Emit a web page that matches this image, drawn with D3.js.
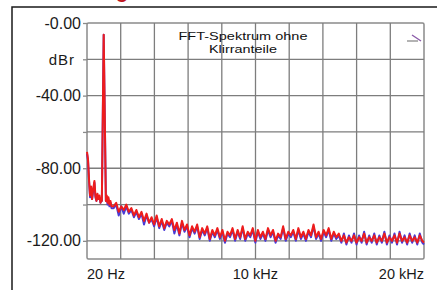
<!DOCTYPE html>
<html>
<head>
<meta charset="utf-8">
<script src="https://cdn.jsdelivr.net/npm/d3@7"></script>
<style>
  body { margin: 0; background: #fff; }
  svg { display: block; font-family: "Liberation Sans", Arial, sans-serif; }
</style>
</head>
<body>
<svg id="chart"></svg>
<script>
// frequency points (Hz), shared by both traces
const freqs = [
  20, 80, 140, 200, 260, 320, 380, 460, 520, 580, 640, 700, 760, 820, 870, 900, 1010, 1140, 1190, 1240, 1290, 1350, 1410, 1470,
  1600, 1750, 1900, 2050, 2200, 2350, 2500, 2650, 2800, 2950,
  3100, 3250, 3400, 3550, 3700, 3850, 4000, 4150, 4300, 4450,
  4600, 4750, 4900, 5050, 5200, 5350, 5500, 5650, 5800, 5950,
  6100, 6250, 6400, 6550, 6700, 6850, 7000, 7150, 7300, 7450,
  7600, 7750, 7900, 8050, 8200, 8350, 8500, 8650, 8800, 8950,
  9100, 9250, 9400, 9550, 9700, 9850, 10000, 10150, 10300, 10450,
  10600, 10750, 10900, 11050, 11200, 11350, 11500, 11650, 11800, 11950,
  12100, 12250, 12400, 12550, 12700, 12850, 13000, 13150, 13300, 13450,
  13600, 13750, 13900, 14050, 14200, 14350, 14500, 14650, 14800, 14950,
  15100, 15250, 15400, 15550, 15700, 15850, 16000, 16150, 16300, 16450,
  16600, 16750, 16900, 17050, 17200, 17350, 17500, 17650, 17800, 17950,
  18100, 18250, 18400, 18550, 18700, 18850, 19000, 19150, 19300, 19450,
  19600, 19750, 19900, 20000
];

// red trace (dBr)
const redDb = [
  -71, -75, -86, -95, -90, -97, -92, -87, -95, -98, -94, -97, -95, -99, -97, -98, -6.5, -98, -95, -99, -96, -100, -98, -101,
  -101, -99, -104, -101, -103, -100, -104, -102, -106, -103,
  -107, -104, -109, -105, -110, -107, -111, -106, -112, -108,
  -113, -109, -111, -108, -114, -110, -116, -109, -114, -111,
  -117, -112, -115, -111, -118, -113, -116, -112, -119, -114,
  -117, -113, -118, -114, -120, -115, -117, -113, -119, -114,
  -118, -112, -119, -115, -117, -113, -120, -114, -118, -115,
  -119, -113, -117, -114, -120, -116, -118, -112, -119, -115,
  -117, -114, -119, -113, -118, -115, -119, -114, -117, -111,
  -118, -115, -119, -114, -117, -113, -119, -115, -118, -116,
  -120, -117, -121, -118, -120, -117, -121, -118, -120, -116,
  -121, -118, -120, -117, -121, -118, -120, -116, -121, -118,
  -120, -117, -121, -116, -120, -118, -121, -117, -120, -118,
  -121, -117, -120, -121
];

// blue trace (dBr), mostly hidden under the red one
const blueDb = [
  -72, -76, -87, -96, -91, -97, -93, -88, -96, -98, -95, -97, -96, -99, -98, -98, -6.5, -98, -96, -100, -97, -101, -99, -102,
  -102, -100, -106, -101, -105, -101, -105, -103, -107, -104,
  -108, -105, -111, -106, -110, -108, -112, -107, -113, -109,
  -114, -110, -112, -109, -116, -111, -117, -110, -115, -112,
  -118, -113, -116, -112, -119, -114, -117, -113, -120, -115,
  -118, -114, -119, -115, -121, -116, -118, -114, -120, -115,
  -119, -113, -120, -116, -118, -114, -121, -115, -119, -116,
  -120, -114, -118, -115, -121, -117, -119, -113, -120, -116,
  -118, -115, -120, -114, -119, -116, -120, -115, -118, -112,
  -119, -116, -120, -115, -118, -114, -120, -116, -119, -117,
  -121, -116, -122, -117, -121, -116, -122, -117, -121, -115,
  -122, -117, -121, -116, -122, -117, -121, -115, -122, -117,
  -121, -116, -122, -115, -121, -117, -122, -116, -121, -117,
  -122, -116, -121, -122
];

const yTicks = [0, -20, -40, -60, -80, -100, -120];
const yTickLabels = ["-0.00", "", "-40.00", "", "-80.00", "", "-120.00"];
const xTicks = [20, 10000, 20000];
const xTickLabels = ["20 Hz", "10 kHz", "20 kHz"];
const unitLabel = "dBr";
const titleLines = ["FFT-Spektrum ohne", "Klirranteile"];

const width = 437, height = 290;
const plot = { left: 87, right: 424, top: 23, bottom: 259 };

const svg = d3.select("#chart").attr("width", width).attr("height", height);

const xScale = d3.scaleLinear().domain([20, 20000]).range([plot.left, plot.right]);
const yScale = d3.scaleLinear().domain([-130, 0]).range([plot.bottom, plot.top]);

// outer frame of the figure (only top and left edge visible)
svg.append("path")
  .attr("d", `M12,${height} L12,7 L${width},7`)
  .attr("fill", "none")
  .attr("stroke", "#1a1a1a")
  .attr("stroke-width", 1.5);

// cut-off red heading above the frame
svg.append("text")
  .attr("x", 122).attr("y", -2)
  .attr("text-anchor", "middle")
  .attr("font-size", 20).attr("font-weight", "bold")
  .attr("fill", "#c0161c")
  .text("g");

// plot background + grid
svg.append("rect")
  .attr("x", plot.left).attr("y", plot.top)
  .attr("width", plot.right - plot.left).attr("height", plot.bottom - plot.top)
  .attr("rx", 1.5)
  .attr("fill", "#fff").attr("stroke", "#8a8a8a").attr("stroke-width", 1.5);

const grid = svg.append("g").attr("stroke", "#7d7d7d").attr("stroke-width", 1.3);

grid.selectAll("line.v")
  .data(d3.range(1, 10))
  .join("line")
  .attr("class", "v")
  .attr("x1", i => plot.left + i * (plot.right - plot.left) / 10)
  .attr("x2", i => plot.left + i * (plot.right - plot.left) / 10)
  .attr("y1", plot.top).attr("y2", plot.bottom);

grid.selectAll("line.h")
  .data(yTicks.slice(1))
  .join("line")
  .attr("class", "h")
  .attr("x1", plot.left).attr("x2", plot.right)
  .attr("y1", d => yScale(d)).attr("y2", d => yScale(d));

// y axis
const yAxis = svg.append("g")
  .attr("transform", `translate(${plot.left},0)`)
  .call(d3.axisLeft(yScale)
    .tickValues(yTicks)
    .tickSize(4)
    .tickPadding(2)
    .tickFormat((d, i) => yTickLabels[i]));
yAxis.select(".domain").remove();
yAxis.selectAll(".tick line").attr("stroke", "#8a8a8a").attr("stroke-width", 1.3);
yAxis.selectAll(".tick text")
  .attr("font-size", 16)
  .attr("font-family", "Liberation Sans, Arial, sans-serif")
  .attr("fill", "#1a1a1a");

svg.append("text")
  .attr("x", 75).attr("y", yScale(-20))
  .attr("dy", "0.35em")
  .attr("text-anchor", "end")
  .attr("font-size", 15)
  .attr("letter-spacing", 1)
  .attr("fill", "#1a1a1a")
  .text(unitLabel);

// x axis labels
svg.append("g")
  .selectAll("text")
  .data(xTicks)
  .join("text")
  .attr("x", d => xScale(d))
  .attr("y", 279)
  .attr("text-anchor", (d, i) => ["start", "middle", "end"][i])
  .attr("font-size", 14.5)
  .attr("fill", "#1a1a1a")
  .text((d, i) => xTickLabels[i]);

// title inside plot (slightly wide lettering, as in the scan)
svg.append("g")
  .selectAll("text")
  .data(titleLines)
  .join("text")
  .attr("x", 243)
  .attr("y", (d, i) => 40 + i * 13)
  .attr("text-anchor", "middle")
  .attr("font-size", 11.5)
  .attr("textLength", (d, i) => [129, 68][i])
  .attr("lengthAdjust", "spacingAndGlyphs")
  .attr("fill", "#111")
  .text(d => d);

// small marker top right
svg.append("path")
  .attr("d", "M407,41 L418,41")
  .attr("stroke", "#8a8a8a").attr("stroke-width", 1.3);
svg.append("path")
  .attr("d", "M412,35 L421,41")
  .attr("stroke", "#8a5aa8").attr("stroke-width", 1.3);

// traces
const line = d3.line()
  .x(d => xScale(d[0]))
  .y(d => yScale(d[1]));

svg.append("path")
  .datum(freqs.map((f, i) => [f, blueDb[i]]))
  .attr("fill", "none")
  .attr("stroke", "#4a3bd6")
  .attr("stroke-width", 2)
  .attr("stroke-linejoin", "round")
  .attr("d", line);

svg.append("path")
  .datum(freqs.map((f, i) => [f, redDb[i]]))
  .attr("fill", "none")
  .attr("stroke", "#ee1c1c")
  .attr("stroke-width", 2)
  .attr("stroke-linejoin", "round")
  .attr("d", line);
</script>
</body>
</html>
